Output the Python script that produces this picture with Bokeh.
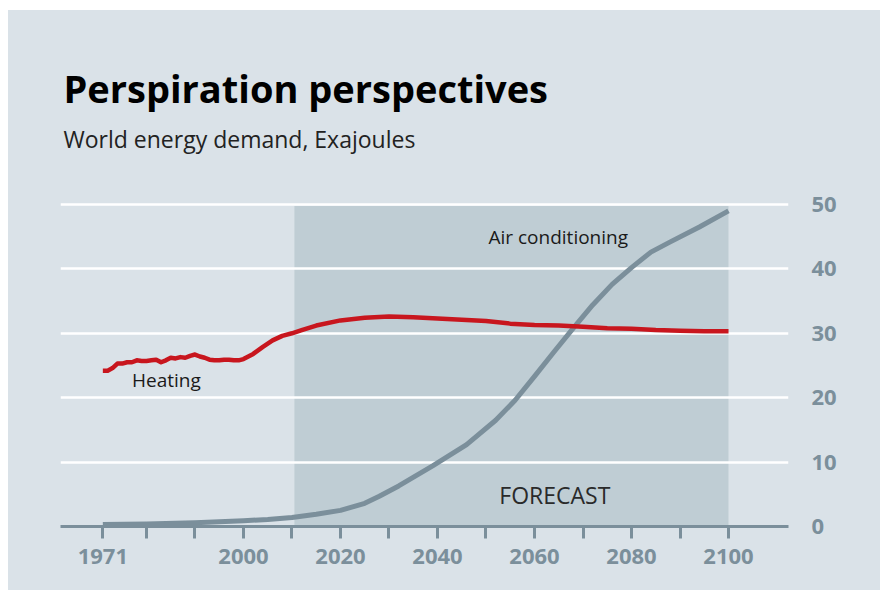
from bokeh.plotting import figure
from bokeh.models import FixedTicker, Range1d, Label
from bokeh.embed import file_html
from bokeh.resources import INLINE

# ---- data ----
heat_years = [1971, 1972, 1973, 1974, 1975, 1976, 1977, 1978, 1979, 1980,
              1981, 1982, 1983, 1984, 1985, 1986, 1987, 1988, 1989, 1990,
              1991, 1992, 1993, 1994, 1995, 1996, 1997, 1998, 1999, 2000,
              2002, 2004, 2006, 2008, 2010, 2012, 2015, 2020, 2025, 2030,
              2035, 2040, 2045, 2050, 2055, 2060, 2065, 2070, 2075, 2080,
              2085, 2090, 2095, 2100]
heating = [24.2, 24.2, 24.6, 25.3, 25.3, 25.5, 25.5, 25.8, 25.7, 25.7,
           25.8, 25.9, 25.5, 25.8, 26.2, 26.1, 26.3, 26.2, 26.5, 26.7,
           26.4, 26.2, 25.9, 25.8, 25.8, 25.9, 25.9, 25.8, 25.8, 26.0,
           26.8, 27.9, 28.9, 29.6, 30.0, 30.5, 31.2, 32.0, 32.4, 32.6,
           32.5, 32.3, 32.1, 31.9, 31.5, 31.3, 31.2, 31.0, 30.8, 30.7,
           30.5, 30.4, 30.3, 30.3]

ac_years = [1971, 1980, 1990, 2000, 2005, 2010, 2015, 2020, 2025, 2028,
            2032, 2039, 2046, 2052, 2056, 2060, 2064, 2068, 2072, 2076,
            2080, 2084, 2088, 2094, 2100]
air_conditioning = [0.3, 0.4, 0.6, 0.9, 1.1, 1.4, 1.9, 2.5, 3.6, 4.7,
                    6.3, 9.4, 12.7, 16.5, 19.6, 23.3, 27.1, 30.8, 34.4, 37.6,
                    40.2, 42.6, 44.2, 46.5, 49.0]

forecast_start, forecast_end = 2010.5, 2100
x_ticks = [1971, 1980, 1990, 2000, 2010, 2020, 2030, 2040, 2050, 2060,
           2070, 2080, 2090, 2100]
x_labels = {1971: "1971", 2000: "2000", 2020: "2020", 2040: "2040",
            2060: "2060", 2080: "2080", 2100: "2100"}
y_ticks = [0, 10, 20, 30, 40, 50]
grid_ticks = [10, 20, 30, 40, 50]

PANEL = "#dae2e8"
SHADE = "#bfcdd4"
GREY = "#7b8f9b"
RED = "#c8161e"

# frame reaches the top of the canvas; headline sits in the empty upper part
p = figure(width=872, height=580, output_backend="svg", toolbar_location=None,
           x_range=Range1d(1962.27, 2112.37), y_range=Range1d(0, 80.12),
           y_axis_location="right", margin=(10, 0, 0, 8),
           min_border_left=52, min_border_right=92,
           min_border_top=0, min_border_bottom=64,
           styles={"background-color": PANEL})
p.background_fill_color = PANEL
p.border_fill_color = PANEL
p.outline_line_color = None

# forecast shading (below grid lines)
p.quad(left=[forecast_start], right=[forecast_end], bottom=[0], top=[49.75],
       fill_color=SHADE, line_color=None, level="image")

# grid
p.xgrid.visible = False
p.ygrid.ticker = FixedTicker(ticks=grid_ticks)
p.ygrid.grid_line_color = "white"
p.ygrid.grid_line_width = 2.5

# lines
p.line(ac_years, air_conditioning, line_color=GREY, line_width=5, line_join="round")
p.line(heat_years, heating, line_color=RED, line_width=4.5, line_join="round")

# x axis
xa = p.xaxis[0]
xa.ticker = FixedTicker(ticks=x_ticks)
xa.major_label_overrides = {t: x_labels.get(t, "") for t in x_ticks}
xa.axis_line_color = GREY
xa.axis_line_width = 3
xa.major_tick_line_color = GREY
xa.major_tick_line_width = 3
xa.major_tick_in = 0
xa.major_tick_out = 12
xa.minor_tick_line_color = None
xa.major_label_standoff = 10
xa.major_label_text_font = "Open Sans"
xa.major_label_text_font_style = "bold"
xa.major_label_text_font_size = "22px"
xa.major_label_text_color = GREY

# y axis (right)
ya = p.yaxis[0]
ya.ticker = FixedTicker(ticks=y_ticks)
ya.axis_line_color = None
ya.major_tick_line_color = None
ya.minor_tick_line_color = None
ya.major_label_standoff = 17
ya.major_label_text_font = "Open Sans"
ya.major_label_text_font_style = "bold"
ya.major_label_text_font_size = "22px"
ya.major_label_text_color = GREY

# series labels
p.add_layout(Label(x=1984.1, y=22.7, text="Heating", text_align="center",
                   text_baseline="alphabetic", text_font="Open Sans",
                   text_font_size="19px", text_color="#1a1a1a"))
p.add_layout(Label(x=2064.9, y=44.9, text="Air conditioning", text_align="center",
                   text_baseline="alphabetic", text_font="Open Sans",
                   text_font_size="19px", text_color="#1a1a1a"))
p.add_layout(Label(x=2064.2, y=4.9, text="FORECAST", text_align="center",
                   text_baseline="alphabetic", text_font="Open Sans",
                   text_font_size="23px", text_color="#2a2a2a"))

# headline and subtitle
p.add_layout(Label(x=3, y=68.07, x_units="screen", text="Perspiration perspectives",
                   text_baseline="alphabetic", text_font="Open Sans",
                   text_font_style="bold", text_font_size="38px",
                   text_color="#000000"))
p.add_layout(Label(x=3, y=60.2, x_units="screen", text="World energy demand, Exajoules",
                   text_baseline="alphabetic", text_font="Open Sans",
                   text_font_size="23px", text_color="#222222"))

open("out.html", "w").write(file_html(p, INLINE))
